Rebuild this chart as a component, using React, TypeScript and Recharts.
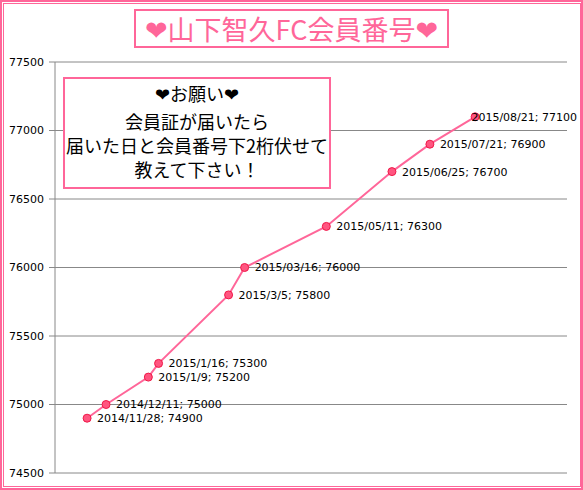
import React from "react";
import { LineChart, Line, XAxis, YAxis, CartesianGrid, LabelList } from "recharts";

const dateLabels = [
  "2014/11/28",
  "2014/12/11",
  "2015/1/9",
  "2015/1/16",
  "2015/3/5",
  "2015/03/16",
  "2015/05/11",
  "2015/06/25",
  "2015/07/21",
  "2015/08/21",
];
const memberNumbers = [74900, 75000, 75200, 75300, 75800, 76000, 76300, 76700, 76900, 77100];
const yTicks = [74500, 75000, 75500, 76000, 76500, 77000, 77500];
const titleText = "❤山下智久FC会員番号❤";
const noteLines = ["❤お願い❤", "会員証が届いたら", "届いた日と会員番号下2桁伏せて", "教えて下さい！"];

const PINK = "#FF6699";
const FONT = "'DejaVu Sans', sans-serif";
const CJK = "'Noto Sans CJK JP', 'DejaVu Sans', sans-serif";

const toDay = (s: string) => {
  const [y, m, d] = s.split("/").map(Number);
  return Date.UTC(y, m - 1, d) / 86400000;
};
const day0 = toDay(dateLabels[0]);

const data = dateLabels.map((d, i) => ({
  day: toDay(d) - day0,
  value: memberNumbers[i],
  label: `${d}; ${memberNumbers[i]}`,
}));

const renderLabel = (props: any) => {
  const { x, y, value } = props;
  const text = String(value);
  const est = text.length * 6.0;
  let tx = x + 10;
  let anchor: "start" | "end" = "start";
  if (tx + est > 578) {
    tx = 577;
    anchor = "end";
  }
  return (
    <text x={tx} y={y} dy="0.36em" textAnchor={anchor} fontSize={11} fontFamily={FONT} fill="#000">
      {text}
    </text>
  );
};

const noteTops = [2, 30, 53.5, 77.5];

export default function App() {
  return (
    <div style={{ position: "absolute", left: 0, top: 0, width: 583, height: 490, background: "#fff" }}>
      <LineChart width={583} height={490} data={data} margin={{ top: 62, right: 16, bottom: 17, left: 0 }}>
        <CartesianGrid vertical={false} stroke="#888" />
        <XAxis type="number" dataKey="day" domain={[-22, 329]} hide />
        <YAxis
          type="number"
          domain={[74500, 77500]}
          ticks={yTicks}
          width={55}
          interval={0}
          axisLine={{ stroke: "#888" }}
          tickLine={{ stroke: "#888" }}
          tickSize={6}
          tickMargin={5}
          tick={{ fill: "#000", fontSize: 11, fontFamily: FONT }}
        />
        <Line
          type="linear"
          dataKey="value"
          stroke={PINK}
          strokeWidth={2}
          dot={{ r: 4, fill: "#FF5580", stroke: "#F01848", strokeWidth: 1 }}
          isAnimationActive={false}
        >
          <LabelList dataKey="label" content={renderLabel} />
        </Line>
      </LineChart>

      <div style={{ position: "absolute", left: 0, top: 0, width: 583, height: 490, border: `2px solid ${PINK}`, boxSizing: "border-box", pointerEvents: "none" }} />
      <div style={{ position: "absolute", left: 3, top: 3, width: 578, height: 484, border: `1px solid ${PINK}`, boxSizing: "border-box", pointerEvents: "none" }} />

      <div
        style={{
          position: "absolute",
          left: 134,
          top: 9,
          width: 315,
          height: 39,
          border: `2px solid ${PINK}`,
          boxSizing: "border-box",
          background: "#fff",
          color: PINK,
          fontFamily: CJK,
          fontSize: 27,
          lineHeight: "35px",
          textAlign: "center",
          whiteSpace: "nowrap",
        }}
      >
        {titleText}
      </div>

      <div
        style={{
          position: "absolute",
          left: 63,
          top: 77,
          width: 268,
          height: 112,
          border: `2px solid ${PINK}`,
          boxSizing: "border-box",
          background: "#fff",
        }}
      >
        {noteLines.map((t, i) => (
          <div
            key={i}
            style={{
              position: "absolute",
              left: 0,
              right: 0,
              top: noteTops[i],
              lineHeight: "24px",
              fontSize: 18,
              fontFamily: CJK,
              color: "#000",
              textAlign: "center",
              whiteSpace: "nowrap",
            }}
          >
            {t}
          </div>
        ))}
      </div>
    </div>
  );
}
